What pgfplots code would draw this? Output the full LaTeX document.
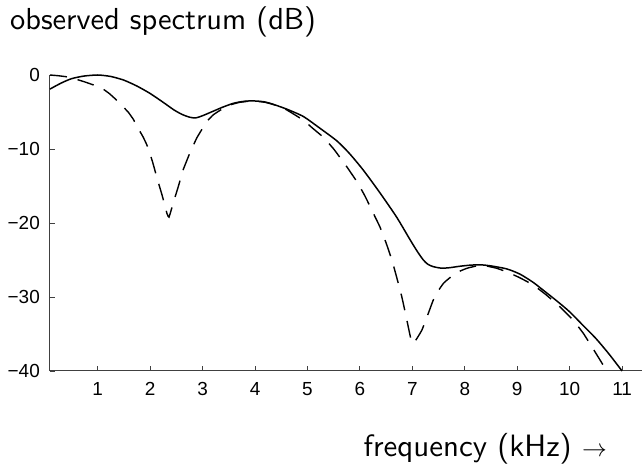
\documentclass[border=0pt]{standalone}
\usepackage{fontspec}
\setmainfont{Liberation Sans}
\newfontfamily\titlefont{lmsans10-regular.otf}
\usepackage{pgfplots}
\pgfplotsset{compat=1.18}
\begin{document}
\begin{tikzpicture}
\path[use as bounding box] (0,0) rectangle (642bp,470bp);
\begin{axis}[
  at={(50bp,99bp)}, anchor=south west,
  scale only axis, width=592bp, height=296bp,
  xmin=0.09, xmax=11.38, ymin=-40, ymax=0,
  axis x line*=bottom, axis y line*=left,
  xtick={1,2,3,4,5,6,7,8,9,10,11},
  ytick={-40,-30,-20,-10,0},
  yticklabels={−40,−30,−20,−10,0},
  tick align=inside, major tick length=5bp,
  tick style={black!75, line width=0.9bp},
  axis line style={black!75, line width=1bp},
  tick label style={font=\fontsize{19}{19}\selectfont},
  xticklabel style={inner sep=0pt, yshift=-11bp},
  yticklabel style={inner sep=0pt, xshift=-10bp},
  /pgf/number format/assume math mode=true,
  clip=false,
]
\addplot[black, line width=1.5bp, smooth, tension=0.4] coordinates {
(0.09,-1.9) (0.3,-1.1) (0.5,-0.5) (0.73,-0.15) (1.0,0.0) (1.25,-0.2)
(1.5,-0.7) (1.75,-1.5) (2.0,-2.5) (2.25,-3.7) (2.45,-4.7) (2.6,-5.3)
(2.75,-5.7) (2.87,-5.8) (3.0,-5.5) (3.2,-4.9) (3.4,-4.3) (3.6,-3.8)
(3.8,-3.55) (3.96,-3.5) (4.15,-3.6) (4.3,-3.85) (4.6,-4.6) (4.92,-5.6)
(5.2,-7.0) (5.56,-8.9) (5.8,-10.6) (6.07,-12.9) (6.38,-15.9) (6.7,-19.2)
(6.96,-22.3) (7.1,-23.9) (7.21,-25.0) (7.3,-25.6) (7.4,-25.9) (7.55,-26.1)
(7.7,-26.05) (7.9,-25.85) (8.1,-25.7) (8.3,-25.65) (8.5,-25.8) (8.8,-26.2)
(9.05,-26.9) (9.3,-28.0) (9.5,-29.1) (9.75,-30.5) (10.0,-32.0) (10.25,-33.8)
(10.5,-35.6) (10.75,-37.7) (11.0,-40.0)
};
\addplot[black, line width=1.4bp, dash pattern=on 17bp off 11bp, smooth, tension=0.25] coordinates {
(0.09,0.0) (0.25,-0.1) (0.41,-0.25) (0.6,-0.6) (0.76,-0.95) (0.92,-1.35)
(1.08,-1.8) (1.22,-2.5) (1.36,-3.4) (1.47,-4.2) (1.58,-5.0) (1.68,-6.0)
(1.77,-7.2) (1.86,-8.3) (1.94,-9.5) (2.04,-11.6) (2.13,-13.9) (2.23,-16.3)
(2.32,-18.7) (2.36,-19.2) (2.44,-17.3) (2.54,-15.0) (2.63,-12.8) (2.76,-10.5)
(2.89,-8.5) (3.0,-7.2) (3.08,-6.3) (3.2,-5.4) (3.35,-4.7) (3.5,-4.1)
(3.7,-3.7) (3.96,-3.5) (4.2,-3.7) (4.4,-4.1) (4.6,-4.7) (4.92,-6.1)
(5.1,-7.2) (5.3,-8.4) (5.5,-10.0) (5.75,-12.4) (5.95,-14.5) (6.1,-16.4)
(6.25,-18.6) (6.38,-20.5) (6.5,-22.7) (6.61,-25.0) (6.7,-27.3) (6.8,-30.0)
(6.88,-32.6) (6.97,-35.6) (7.02,-36.3) (7.18,-34.5) (7.3,-32.3) (7.4,-30.4)
(7.5,-29.1) (7.6,-28.1) (7.75,-27.2) (7.91,-26.5) (8.05,-26.1) (8.23,-25.8)
(8.4,-25.8) (8.6,-26.1) (8.8,-26.6) (9.05,-27.4) (9.31,-28.4) (9.55,-29.7)
(9.81,-31.3) (10.05,-33.0) (10.26,-34.9) (10.5,-37.6) (10.7,-39.9)
};
\end{axis}
\node[anchor=base west, inner sep=0pt, font=\titlefont\fontsize{30.5}{31}\selectfont] at (10bp,440bp) {observed spectrum (dB)};
\node[anchor=base east, inner sep=0pt, font=\titlefont\fontsize{31}{31}\selectfont] at (607bp,14bp) {frequency (kHz) $\rightarrow$};
\end{tikzpicture}
\end{document}
